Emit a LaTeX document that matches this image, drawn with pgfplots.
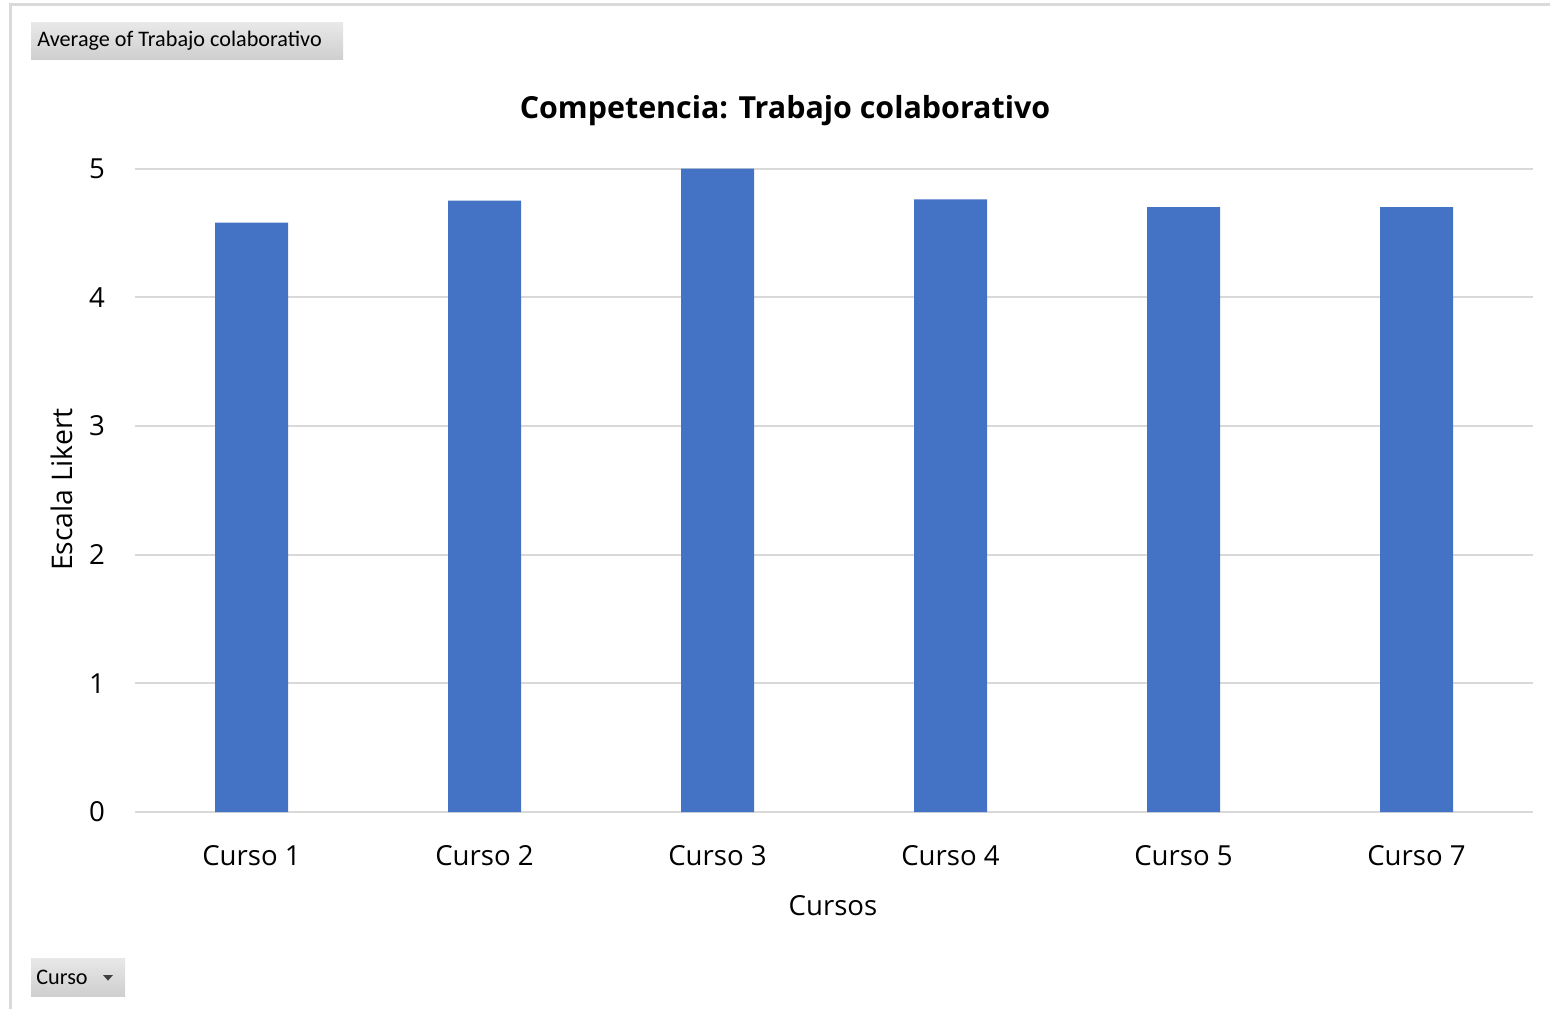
\documentclass[border=0pt]{standalone}
\usepackage{pgfplots}
\pgfplotsset{compat=1.18}
\usepackage{fontspec}
\setmainfont{Open Sans}
\newfontfamily\btnfont{Carlito}
\definecolor{barblue}{HTML}{4472C4}
\definecolor{gridgray}{HTML}{D9D9D9}
\definecolor{framegray}{HTML}{DADADA}

\begin{document}
\begin{tikzpicture}
    % page area and frame
    \useasboundingbox (0pt,0pt) rectangle (775pt,504.5pt);
    \draw[framegray, line width=1.5pt] (5pt,0pt) -- (5pt,502pt) -- (775pt,502pt);

    % pivot field buttons
    \shade[top color=gray!18, bottom color=gray!38] (15.5pt,474.5pt) rectangle (171.5pt,493pt);
    \node[anchor=west, inner sep=0pt, font=\btnfont\fontsize{11.1}{13}\selectfont] at (18.5pt,484pt) {Average of Trabajo colaborativo};
    \shade[top color=gray!18, bottom color=gray!38] (15.5pt,6.5pt) rectangle (62.5pt,25.5pt);
    \node[anchor=west, inner sep=0pt, font=\btnfont\fontsize{11.1}{13}\selectfont] at (18pt,16pt) {Curso};
    \fill[black!75] (51.5pt,17pt) -- (56.5pt,17pt) -- (54pt,14.2pt) -- cycle;

    % chart title and axis titles
    \node[font=\bfseries\fontsize{15.2}{18}\selectfont] at (392.5pt,449pt) {Competencia: Trabajo colaborativo};
    \node[font=\fontsize{13.8}{16}\selectfont] at (416.5pt,51.5pt) {Cursos};
    \node[rotate=90, font=\fontsize{14.2}{16}\selectfont] at (31pt,259.75pt) {Escala Likert};

    \begin{axis}[
            at={(67.5pt,98.5pt)}, anchor=south west,
            scale only axis,
            width=699pt, height=321.75pt,
            ybar, bar width=36.5pt,
            xmin=-0.5, xmax=5.5,
            ymin=0, ymax=5,
            xtick=data,
            xticklabels={Curso 1, Curso 2, Curso 3, Curso 4, Curso 5, Curso 7},
            ytick={0,1,2,3,4,5},
            axis line style={draw=none},
            major tick length=0pt,
            ymajorgrids=true,
            grid style={gridgray, line width=1pt},
            /pgf/number format/assume math mode=true,
            tick label style={font=\fontsize{13.8}{16}\selectfont, black},
            yticklabel style={anchor=center, xshift=-19pt},
            xticklabel style={anchor=center, yshift=-22pt},
        ]
        \addplot[fill=barblue, draw=none] coordinates {
                (0, 4.58)
                (1, 4.75)
                (2, 5.00)
                (3, 4.76)
                (4, 4.70)
                (5, 4.70)
            };
    \end{axis}
\end{tikzpicture}
\end{document}
